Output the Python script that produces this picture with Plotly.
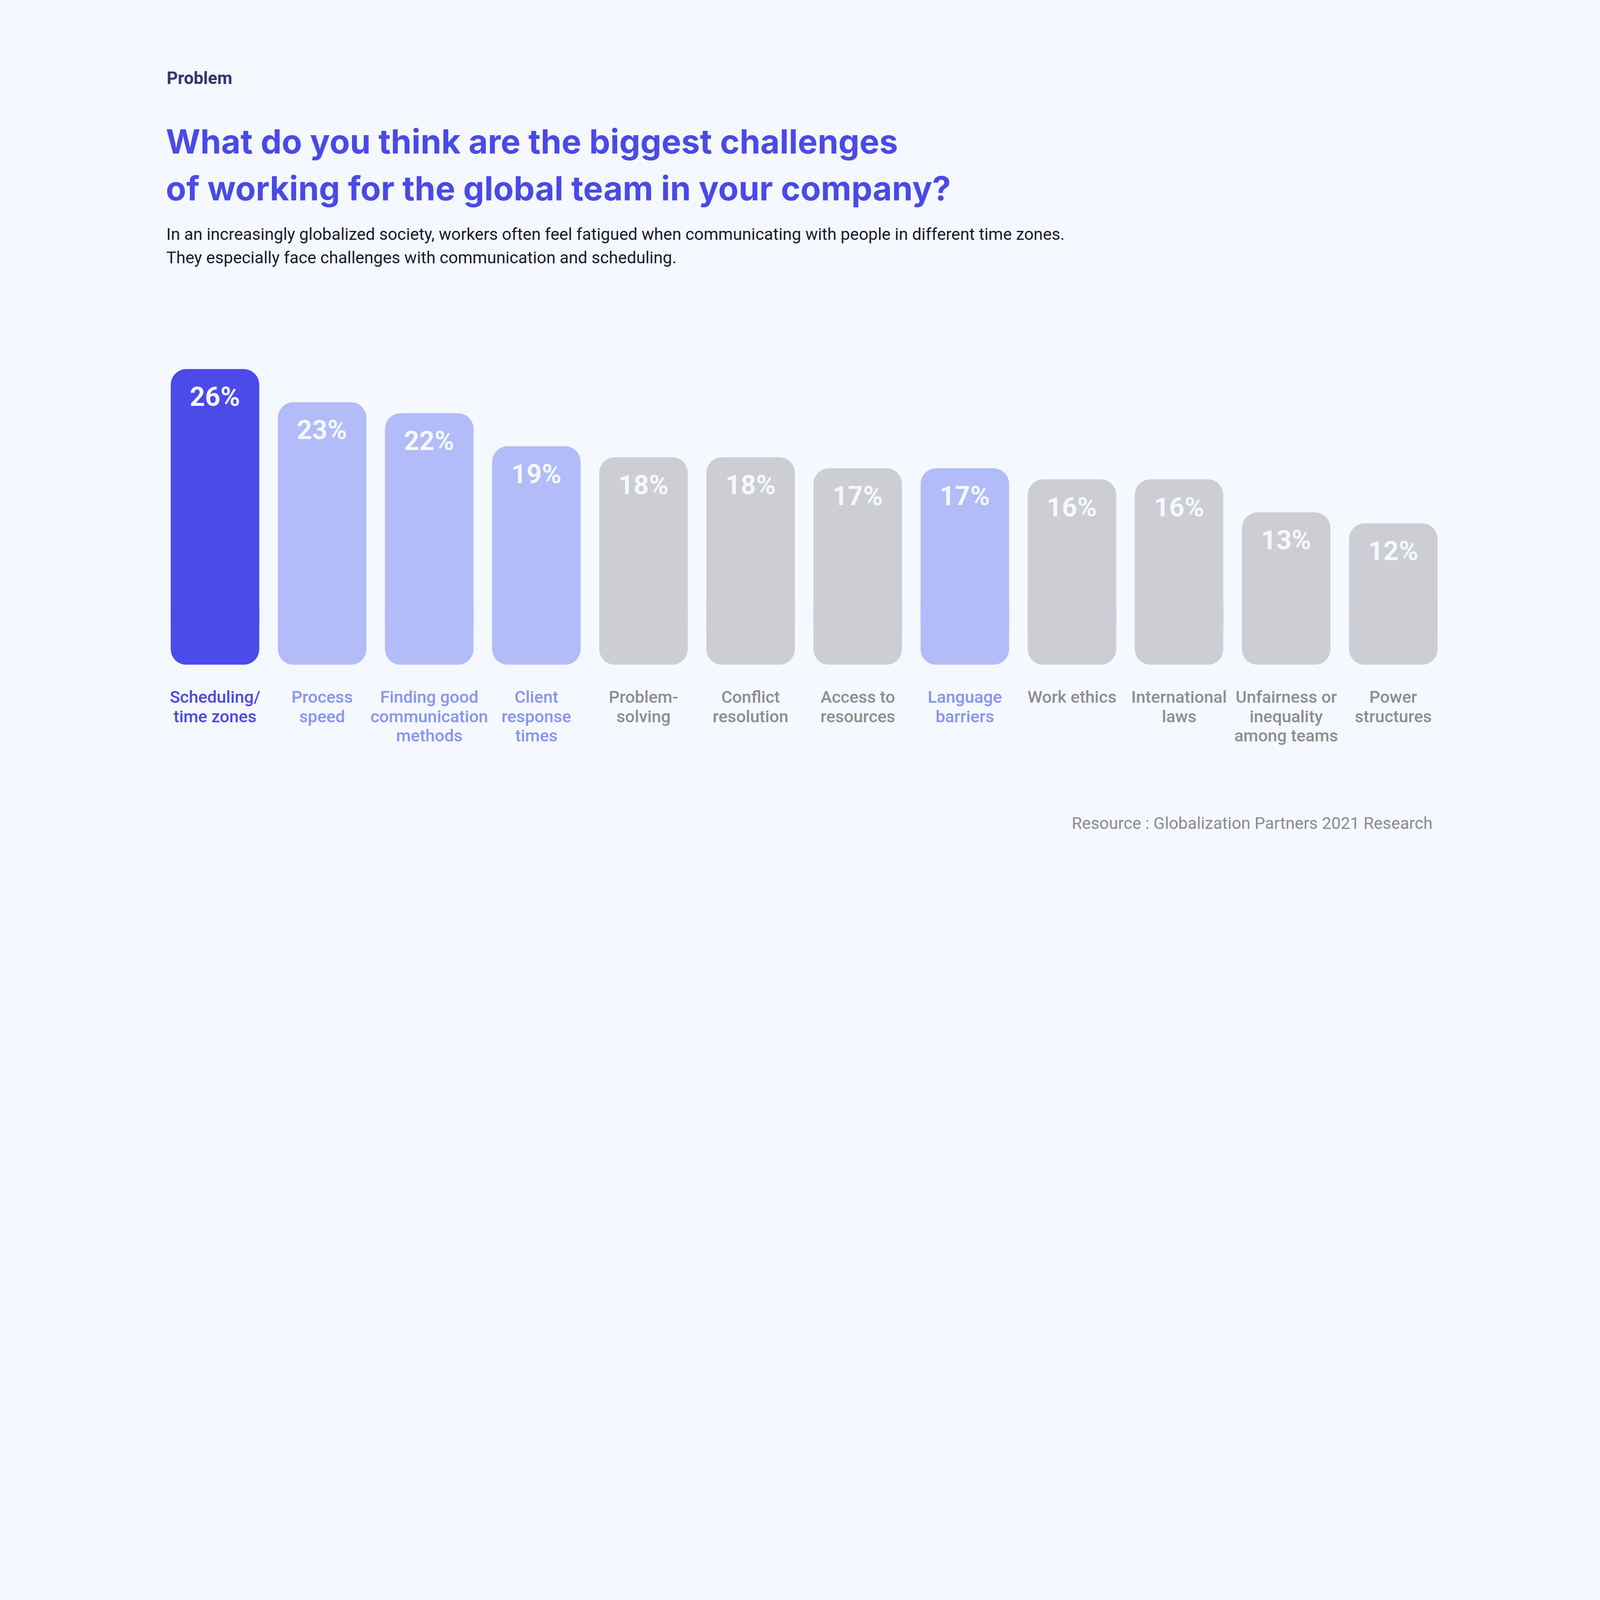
import plotly.graph_objects as go

# ---------------- data ----------------
categories = [
    "Scheduling/<br>time zones",
    "Process<br>speed",
    "Finding good<br>communication<br>methods",
    "Client<br>response<br>times",
    "Problem-<br>solving",
    "Conflict<br>resolution",
    "Access to<br>resources",
    "Language<br>barriers",
    "Work ethics",
    "International<br>laws",
    "Unfairness or<br>inequality<br>among teams",
    "Power<br>structures",
]
values = [26, 23, 22, 19, 18, 18, 17, 17, 16, 16, 13, 12]
tiers = ["top", "high", "high", "high", "base", "base", "base", "high", "base", "base", "base", "base"]

kicker = "Problem"
title_lines = [
    "What do you think are the biggest challenges",
    "of working for the global team in your company?",
]
subtitle_lines = [
    "In an increasingly globalized society, workers often feel fatigued when communicating with people in different time zones.",
    "They especially face challenges with communication and scheduling.",
]
source = "Resource : Globalization Partners 2021 Research"

# ---------------- style ----------------
W, H = 7680, 4320
BG = "#F5F8FE"
FONT = "Roboto"
TITLE_FONT = "Inter"
BAR_COLORS = {"top": "#4A4BE8", "high": "#B1BCF8", "base": "#CDCED3"}
LABEL_COLORS = {"top": "#4A4AE2", "high": "#8894F3", "base": "#8E8E8E"}
FOOT = 0.83          # bars extend slightly below the zero line (design element)
BODY_BASE = 1.2      # main (top-rounded) part of each bar starts here
FOOT_TOP = 6.0       # bottom-rounded foot reaches up to here (overlaps the body)
RADIUS = 75


def px(p):
    return p / W


def py(p):
    return 1 - p / H


n = len(values)
bar_colors = [BAR_COLORS[t] for t in tiers]

fig = go.Figure()
# body of each bar: rounded top, ends at the value
fig.add_trace(go.Bar(
    x=categories, y=[v - BODY_BASE for v in values], base=[BODY_BASE] * n,
    marker=dict(color=bar_colors, cornerradius=RADIUS, line=dict(width=0)),
    hoverinfo="skip", showlegend=False,
))
# foot of each bar: rounded bottom corners
fig.add_trace(go.Bar(
    x=categories, y=[-(FOOT_TOP + FOOT)] * n, base=[FOOT_TOP] * n,
    marker=dict(color=bar_colors, cornerradius=RADIUS, line=dict(width=0)),
    hoverinfo="skip", showlegend=False,
))

annotations = []
# value labels inside bars
for c, v in zip(categories, values):
    annotations.append(dict(
        x=c, y=v, xref="x", yref="y", text=f"{v}%", showarrow=False,
        xanchor="center", yanchor="middle", yshift=-133,
        font=dict(family=FONT, size=128, color=BG, weight=700),
    ))
# category labels (line by line for tight spacing)
for c, t in zip(categories, tiers):
    for k, line in enumerate(c.split("<br>")):
        annotations.append(dict(
            x=c, y=py(3346), xref="x", yref="paper", text=line, showarrow=False,
            xanchor="center", yanchor="middle", yshift=-92 * k,
            font=dict(family=FONT, size=81, color=LABEL_COLORS[t], weight=500),
        ))
# header texts
annotations.append(dict(
    x=px(798), y=py(376), xref="paper", yref="paper", text=kicker, showarrow=False,
    xanchor="left", yanchor="middle",
    font=dict(family=FONT, size=83, color="#38346C", weight=700),
))
for k, line in enumerate(title_lines):
    annotations.append(dict(
        x=px(794), y=py(678 + 225 * k), xref="paper", yref="paper", text=line, showarrow=False,
        xanchor="left", yanchor="middle",
        font=dict(family=TITLE_FONT, size=160, color="#4A4AE6", weight=700),
    ))
for k, line in enumerate(subtitle_lines):
    annotations.append(dict(
        x=px(796), y=py(1124 + 112 * k), xref="paper", yref="paper", text=line, showarrow=False,
        xanchor="left", yanchor="middle",
        font=dict(family=FONT, size=80, color="#1B1B2F", weight=400),
    ))
annotations.append(dict(
    x=px(6878), y=py(3951), xref="paper", yref="paper", text=source, showarrow=False,
    xanchor="right", yanchor="middle",
    font=dict(family=FONT, size=80, color="#8C8C8C", weight=400),
))

fig.update_layout(
    width=W, height=H, autosize=False,
    margin=dict(l=0, r=0, t=0, b=0, pad=0),
    paper_bgcolor=BG, plot_bgcolor=BG,
    barmode="overlay", bargap=0.1735,
    xaxis=dict(domain=[px(775), px(6945)], range=[-0.5, n - 0.5],
               showgrid=False, zeroline=False, showticklabels=False, showline=False,
               ticks="", fixedrange=True),
    yaxis=dict(domain=[py(3191), py(1600)], range=[-FOOT, 29.24],
               showgrid=False, zeroline=False, showticklabels=False, showline=False,
               ticks="", fixedrange=True),
    annotations=annotations,
    showlegend=False,
)

# scale the fixed 7680x4320 figure to fit whatever viewport the page is shown in
fit_script = """
(function(){
  var gd = document.getElementById('{plot_id}');
  var de = document.documentElement, b = document.body;
  de.style.margin = '0'; b.style.margin = '0';
  de.style.background = '%(bg)s'; b.style.background = '%(bg)s';
  de.style.overflow = 'hidden'; b.style.overflow = 'hidden';
  function fit(){
    var s = Math.min(window.innerWidth / %(w)d, window.innerHeight / %(h)d);
    if (!isFinite(s) || s <= 0) { s = 1; }
    gd.style.transformOrigin = '0 0';
    gd.style.transform = 'scale(' + s + ')';
    var p = gd.parentElement;
    p.style.width = (%(w)d * s) + 'px';
    p.style.height = (%(h)d * s) + 'px';
    p.style.overflow = 'hidden';
  }
  fit();
  window.addEventListener('resize', fit);
})();
""" % {"bg": BG, "w": W, "h": H}

fig.write_html("out.html", config={"displayModeBar": False}, post_script=fit_script)
